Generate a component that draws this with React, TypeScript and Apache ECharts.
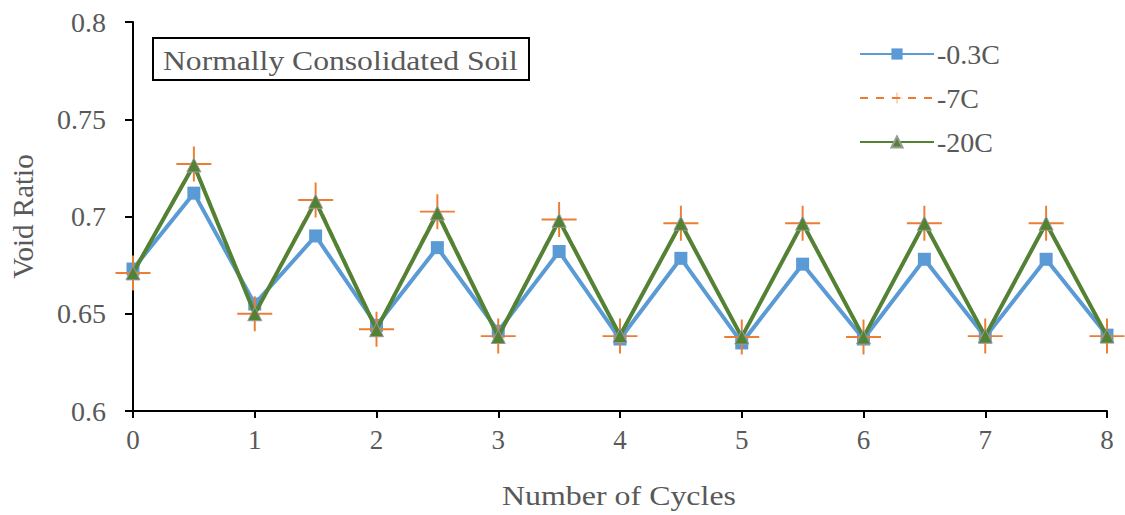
import React, { useEffect, useRef } from "react";
import * as echarts from "echarts";

const cycles = [0, 0.5, 1, 1.5, 2, 2.5, 3, 3.5, 4, 4.5, 5, 5.5, 6, 6.5, 7, 7.5, 8];
const s03 = [0.673, 0.712, 0.655, 0.690, 0.644, 0.684, 0.641, 0.682, 0.637, 0.6785, 0.635, 0.6755, 0.637, 0.678, 0.638, 0.678, 0.639];
const s7 = [0.671, 0.727, 0.650, 0.7085, 0.642, 0.7025, 0.6385, 0.6985, 0.6385, 0.6965, 0.638, 0.6965, 0.638, 0.6965, 0.6385, 0.6965, 0.6385];
const s20 = [0.671, 0.7265, 0.650, 0.7078, 0.6418, 0.7018, 0.6383, 0.698, 0.6388, 0.6965, 0.638, 0.6965, 0.638, 0.6965, 0.6385, 0.6965, 0.6385];
const seriesNames = ["-0.3C", "-7C", "-20C"];
const xTicks = [0, 1, 2, 3, 4, 5, 6, 7, 8];
const yTicks = [0.6, 0.65, 0.7, 0.75, 0.8];
const titleText = "Normally Consolidated Soil";
const xName = "Number of Cycles";
const yName = "Void Ratio";

const FONT = "'Liberation Serif', 'Times New Roman', serif";
const GRAY = "#595959";
const plusPath = "path://M17,0 H19 V17 H36 V19 H19 V36 H17 V19 H0 V17 H17 Z";

export default function App() {
  const ref = useRef<HTMLDivElement>(null);
  useEffect(() => {
    if (!ref.current) return;
    const chart = echarts.init(ref.current, null, { renderer: "svg" });
    const pairs = (ys: number[]) => cycles.map((x, i) => [x, ys[i]]);
    chart.setOption({
      animation: false,
      backgroundColor: "#fff",
      grid: { left: 133, right: 18, top: 22, bottom: 104, containLabel: false, outerBoundsMode: "none" },
      graphic: [
        {
          type: "group",
          left: 152,
          top: 37,
          children: [
            {
              type: "rect",
              shape: { x: 0, y: 0, width: 376, height: 42 },
              style: { fill: "#fff", stroke: "#000", lineWidth: 2 },
            },
            {
              type: "text",
              x: 10,
              y: 22,
              scaleX: 1.13,
              style: {
                text: titleText,
                font: `28px ${FONT}`,
                fill: GRAY,
                align: "left",
                verticalAlign: "middle",
              },
            },
          ],
        },
        {
          type: "text",
          x: 619,
          y: 495,
          scaleX: 1.14,
          style: {
            text: xName,
            font: `28px ${FONT}`,
            fill: GRAY,
            align: "center",
            verticalAlign: "middle",
          },
        },
      ],
      legend: {
        orient: "vertical",
        left: 854,
        top: 35,
        itemWidth: 74,
        itemHeight: 14,
        itemGap: 16,
        data: seriesNames,
        textStyle: { fontFamily: FONT, fontSize: 28, color: GRAY, padding: [0, 0, 0, -2] },
      },
      xAxis: {
        type: "value",
        min: 0,
        max: 8,
        interval: 1,
        axisLine: { lineStyle: { color: "#000", width: 2 } },
        axisTick: { show: true, inside: false, length: 7, lineStyle: { color: "#000", width: 2 } },
        axisLabel: { fontFamily: FONT, fontSize: 27, color: GRAY, margin: 15,
          formatter: (v: number) => (xTicks.includes(v) ? String(v) : "") },
        splitLine: { show: false },
      },
      yAxis: {
        type: "value",
        min: 0.6,
        max: 0.8,
        interval: 0.05,
        name: yName,
        nameLocation: "middle",
        nameGap: 96,
        nameRotate: 90,
        nameTextStyle: { fontFamily: FONT, fontSize: 29, color: GRAY },
        axisLine: { show: true, lineStyle: { color: "#000", width: 2 } },
        axisTick: { show: true, inside: false, length: 8, lineStyle: { color: "#000", width: 2 } },
        axisLabel: { fontFamily: FONT, fontSize: 28, color: GRAY, margin: 27,
          formatter: (v: number) => {
            const t = yTicks.find((y) => Math.abs(y - v) < 1e-6);
            return t === undefined ? "" : String(t);
          } },
        splitLine: { show: false },
      },
      series: [
        {
          name: seriesNames[0],
          type: "line",
          data: pairs(s03),
          symbol: "rect",
          symbolSize: 13,
          itemStyle: { color: "#5B9BD5" },
          lineStyle: { color: "#5B9BD5", width: 4 },
          z: 2,
        },
        {
          name: seriesNames[1],
          type: "line",
          data: pairs(s7),
          symbol: plusPath,
          symbolSize: 35,
          itemStyle: { color: "#ED7D31" },
          lineStyle: { color: "#ED7D31", width: 3, type: [8, 8] },
          z: 3,
        },
        {
          name: seriesNames[2],
          type: "line",
          data: pairs(s20),
          symbol: "triangle",
          symbolSize: 14,
          itemStyle: { color: "#548235", borderColor: "#9a9a9a", borderWidth: 1 },
          lineStyle: { color: "#548235", width: 4 },
          z: 4,
        },
      ],
    });
    return () => chart.dispose();
  }, []);
  return <div ref={ref} style={{ width: 1125, height: 515, position: "absolute", left: 0, top: 0 }} />;
}
